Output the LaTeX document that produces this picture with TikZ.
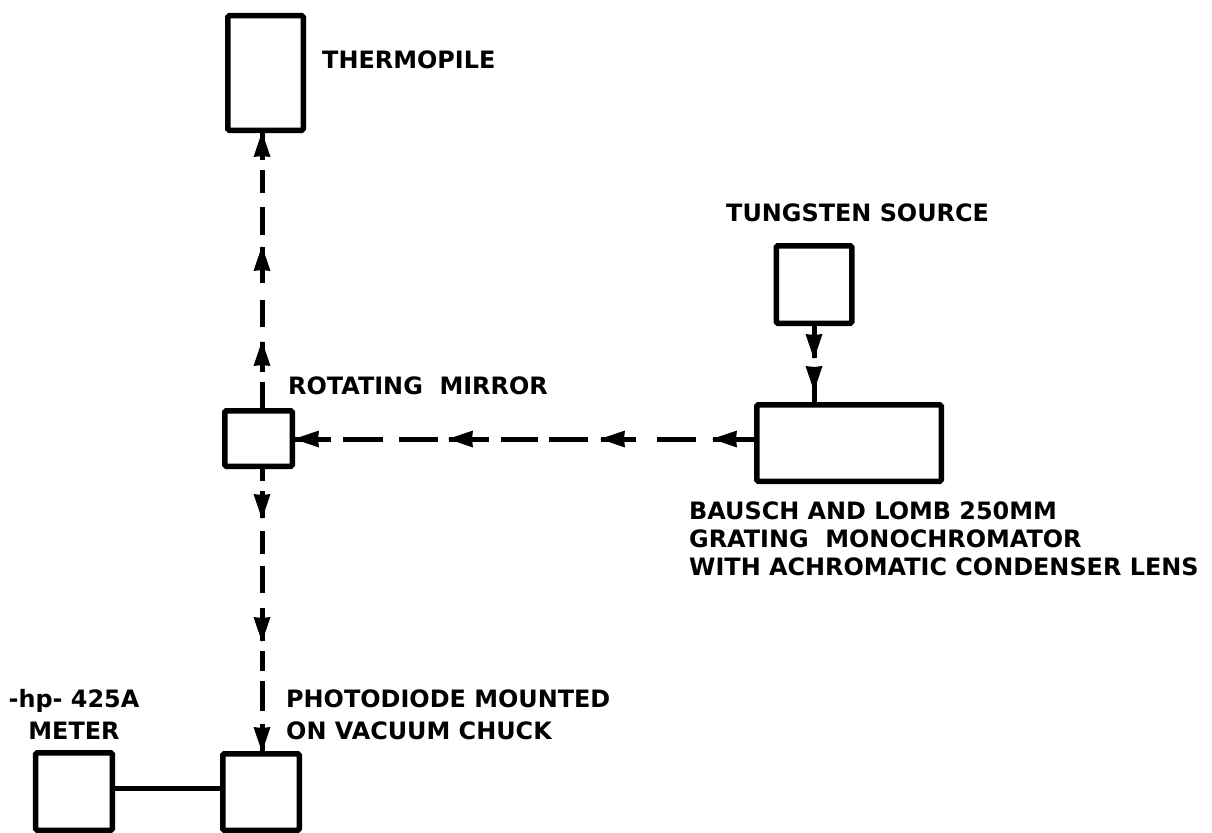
\documentclass[tikz,border=0pt]{standalone}
\usepackage{fontspec}
\setmainfont{DejaVu Sans}
\usetikzlibrary{decorations.markings}
\tikzset{
  box/.style={draw, line width=5.5bp, inner sep=0pt, rounded corners=1.5bp},
  lbl/.style={font=\fontsize{24}{28}\selectfont\bfseries, inner sep=0pt},
  beam/.style={line width=5bp},
}
\newcommand{\mytip}{\fill[solid, line join=round] (1bp,0bp) -- (-24bp,8.5bp) -- (-23bp,0bp) -- (-24bp,-8.5bp) -- cycle;}
\begin{document}
\begin{tikzpicture}[x=1bp,y=-1bp]
\fill[white] (0,0) rectangle (1212,833);
\useasboundingbox (0,0) rectangle (1212,833);

% boxes
\node[box, minimum width=75.5bp, minimum height=114.5bp] (therm) at (265.5,73) {};
\node[box, minimum width=67.5bp, minimum height=55.5bp] (mirror) at (258.5,438.5) {};
\node[box, minimum width=184.5bp, minimum height=76.5bp] (mono) at (849,443) {};
\node[box, minimum width=75.5bp, minimum height=77.5bp] (tung) at (814,284.5) {};
\node[box, minimum width=76.5bp, minimum height=76.5bp] (pd) at (261,792) {};
\node[box, minimum width=76.5bp, minimum height=77.5bp] (meter) at (74,791.5) {};

\coordinate (vx) at (262,0);
\coordinate (hy) at (0,439);
\coordinate (my) at (0,788);

% labels
\node[lbl, anchor=base west] (tlab) at (322,68) {THERMOPILE};
\node[lbl, anchor=base west] (slab) at (726,221.5) {TUNGSTEN SOURCE};
\node[lbl, anchor=base west] (rlab) at (288,394.5) {ROTATING\ \ MIRROR};
\node[lbl, anchor=north west, align=left, font=\fontsize{24}{28}\selectfont\bfseries] (mlab) at (689,501.5)
  {BAUSCH AND LOMB 250MM\\GRATING\ \ MONOCHROMATOR\\WITH ACHROMATIC CONDENSER LENS};
\node[lbl, anchor=north west, align=left, font=\fontsize{24}{32}\selectfont\bfseries] (plab) at (286,689.5)
  {PHOTODIODE MOUNTED\\ON VACUUM CHUCK};
\node[lbl, anchor=north, align=center, font=\fontsize{24}{32}\selectfont\bfseries] (hlab) at (74,689.5)
  {-hp-\ 425A\\METER};

% beams
\draw[beam, dash pattern=on 26bp off 10bp on 30bp off 15bp on 27bp off 17bp on 36bp off 12bp on 28bp off 14bp on 23bp off 10bp on 30bp,
  postaction={decorate, decoration={markings,
    mark=at position 66bp with {\mytip},
    mark=at position 161bp with {\mytip},
    mark=at position 1 with {\mytip}}}]
  (mirror.north -| vx) -- (therm.south -| vx);

\draw[beam, dash pattern=on 12bp off 10bp on 27bp off 13bp on 23bp off 12bp on 27bp off 15bp on 33bp off 10bp on 20bp off 10bp on 30bp off 13bp on 30bp,
  postaction={decorate, decoration={markings,
    mark=at position 49bp with {\mytip},
    mark=at position 172bp with {\mytip},
    mark=at position 1 with {\mytip}}}]
  (mirror.south -| vx) -- (pd.north -| vx);

\draw[beam, dash pattern=on 41bp off 17bp on 39bp off 21bp on 35bp off 13bp on 39bp off 11bp on 37bp off 12bp on 40bp off 11bp on 39bp off 16bp on 40bp off 12bp on 40bp,
  postaction={decorate, decoration={markings,
    mark=at position 41bp with {\mytip},
    mark=at position 153bp with {\mytip},
    mark=at position 305bp with {\mytip},
    mark=at position 1 with {\mytip}}}]
  (mono.west |- hy) -- (mirror.east |- hy);

\draw[beam, dash pattern=on 32bp off 12bp on 40bp,
  postaction={decorate, decoration={markings,
    mark=at position 32bp with {\mytip},
    mark=at position 64bp with {\mytip}}}]
  (tung.south) -- (tung.south |- mono.north);

\draw[beam] (meter.east |- my) -- (pd.west |- my);
\end{tikzpicture}
\end{document}
